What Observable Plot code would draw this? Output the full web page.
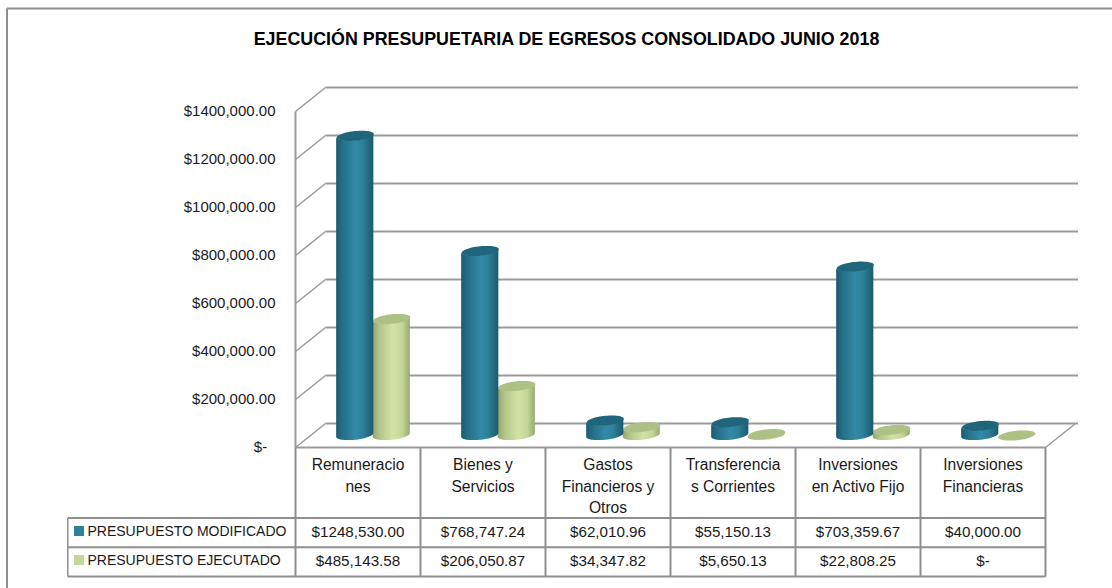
<!DOCTYPE html>
<html>
<head>
<meta charset="utf-8">
<script src="https://cdn.jsdelivr.net/npm/d3@7"></script>
<script src="https://cdn.jsdelivr.net/npm/@observablehq/plot@0.6"></script>
<style>html,body{margin:0;padding:0;background:#fff;overflow:hidden}svg{display:block}</style>
</head>
<body>
<div id="chart"></div>
<script>
const title = "EJECUCIÓN PRESUPUETARIA DE EGRESOS CONSOLIDADO JUNIO 2018";
const categories = ["Remuneracio\nnes","Bienes y\nServicios","Gastos\nFinancieros y\nOtros","Transferencia\ns Corrientes","Inversiones\nen Activo Fijo","Inversiones\nFinancieras"];
const modificado = [1248530.00,768747.24,62010.96,55150.13,703359.67,40000.00];
const ejecutado = [485143.58,206050.87,34347.82,5650.13,22808.25,0];
const modificadoLabels = ["$1248,530.00","$768,747.24","$62,010.96","$55,150.13","$703,359.67","$40,000.00"];
const ejecutadoLabels = ["$485,143.58","$206,050.87","$34,347.82","$5,650.13","$22,808.25","$-"];
const seriesNames = ["PRESUPUESTO MODIFICADO","PRESUPUESTO EJECUTADO"];
const tickValues = [0,200000,400000,600000,800000,1000000,1200000,1400000];
const tickLabels = ["$-\u00a0\u00a0","$200,000.00","$400,000.00","$600,000.00","$800,000.00","$1000,000.00","$1200,000.00","$1400,000.00"];

// chart-unit layout: x in category widths, y in dollars
const depthX = 0.24, depthY = 100000;      // full depth of the 3-D box
const pxY = 1400000 / 336, pxX = 6 / 750;  // one pixel in scale units
const X = p => (p - 295) * pxX, Y = p => (447 - p) * pxY;
const rowLines = [Y(517.5), Y(546.7), Y(576)];
const colLines = d3.range(1, 7);
const FONT = "'Liberation Sans', Arial, sans-serif";
const GRID = "#9b9b9b", LINE = "#8f8f8f", TEXT = "#1a1a1a";

function cylinder(values, offset) {
  const rx = 18.6 * pxX, ry = 4.8 * pxY, tilt = 1.8 * pxY;
  const side = [], top = [];
  values.forEach((v, i) => {
    const cx = i + 0.5 + 0.124 + offset, b = Y(435);
    d3.range(0, 41).forEach(k => {
      const t = k / 40 * Math.PI, c = Math.cos(t), s = Math.sin(t);
      side.push({i, x: cx + rx * c, y1: b - ry * s + tilt * c, y2: b + v - ry * s + tilt * c});
    });
    d3.range(0, 61).forEach(k => {
      const t = k / 60 * 2 * Math.PI, c = Math.cos(t), s = Math.sin(t);
      top.push({i, x: cx + rx * c, y: b + v + ry * s + tilt * c});
    });
  });
  return {side, top};
}
const blue = cylinder(modificado, -0.146);
const green = cylinder(ejecutado, 0.146);

const gradients = () => {
  const svgNS = "http://www.w3.org/2000/svg";
  const defs = document.createElementNS(svgNS, "defs");
  const add = (id, stops) => {
    const g = document.createElementNS(svgNS, "linearGradient");
    g.setAttribute("id", id);
    stops.forEach(([o, c]) => {
      const s = document.createElementNS(svgNS, "stop");
      s.setAttribute("offset", o); s.setAttribute("stop-color", c); g.appendChild(s);
    });
    defs.appendChild(g);
  };
  add("cylBlue", [[0,"#1d5a70"],[0.18,"#256f88"],[0.52,"#338aa6"],[0.72,"#2d8099"],[1,"#1c5a6f"]]);
  add("cylGreen", [[0,"#93a56c"],[0.2,"#b4c68a"],[0.55,"#d2e3a3"],[0.8,"#c3d597"],[1,"#98a971"]]);
  return defs;
};

const gridLevels = tickValues;
const bodyLabels = categories.map((c, i) => ({c, i}));

const plot = Plot.plot({
  width: 1112, height: 588,
  marginTop: 0, marginRight: 0, marginBottom: 0, marginLeft: 0,
  x: {domain: [0, 6], range: [295, 1045], axis: null},
  y: {domain: [0, 1400000], range: [447, 111], axis: null},
  style: {fontFamily: FONT, background: "#fff"},
  marks: [
    gradients,
    // outer chart border (runs off the right and bottom of the picture)
    Plot.link([0], {x1: X(6.5), y1: Y(8), x2: X(1112), y2: Y(8), stroke: LINE, strokeWidth: 2}),
    Plot.link([0], {x1: X(6.5), y1: Y(8), x2: X(6.5), y2: Y(588), stroke: LINE, strokeWidth: 2}),
    // back wall and left wall grid
    Plot.link(gridLevels, {x1: depthX, x2: depthX + 6.02, y1: d => d + depthY, y2: d => d + depthY, stroke: GRID, strokeWidth: 2}),
    Plot.link(gridLevels, {x1: 0, x2: depthX, y1: d => d, y2: d => d + depthY, stroke: GRID, strokeWidth: 1.6}),
    Plot.link([0], {x1: 0, x2: 0, y1: 0, y2: 1400000, stroke: GRID, strokeWidth: 2}),
    Plot.link([0], {x1: 6, x2: 6 + depthX, y1: 0, y2: depthY, stroke: GRID, strokeWidth: 1.6}),
    // cylinders
    Plot.areaY(green.side, {x: "x", y1: "y1", y2: "y2", z: "i", fill: "url(#cylGreen)", curve: "linear"}),
    Plot.line(green.top, {x: "x", y: "y", z: "i", fill: "#aec184", stroke: "none", curve: "linear"}),
    Plot.areaY(blue.side, {x: "x", y1: "y1", y2: "y2", z: "i", fill: "url(#cylBlue)", curve: "linear"}),
    Plot.line(blue.top, {x: "x", y: "y", z: "i", fill: "#1f667c", stroke: "none", curve: "linear"}),
    // data table rules
    Plot.link([0], {x1: 0, x2: 6, y1: 0, y2: 0, stroke: GRID, strokeWidth: 2}),
    Plot.link(rowLines, {x1: X(67.3), x2: 6, y1: d => d, y2: d => d, stroke: LINE, strokeWidth: 2}),
    Plot.link([0], {x1: X(67.3), x2: X(67.3), y1: rowLines[0], y2: rowLines[2], stroke: LINE, strokeWidth: 1.5}),
    Plot.link([0, ...colLines], {x1: d => d, x2: d => d, y1: 0, y2: rowLines[2], stroke: LINE, strokeWidth: 2}),
    // tick labels
    Plot.text(tickValues, {x: 0, y: d => d, text: (d, i) => tickLabels[i], dx: -20, textAnchor: "end", fontSize: 15, fill: TEXT}),
    // title
    Plot.text([title], {x: X(566), y: Y(39), text: d => d, fontSize: 17.85, fontWeight: "bold", fill: "#000"}),
    // category labels and values
    Plot.text(bodyLabels, {x: d => d.i + 0.5, y: Y(455), text: "c", fontSize: 15.6, lineHeight: 1.35, lineAnchor: "top", fill: TEXT}),
    Plot.text(modificadoLabels, {x: (d, i) => i + 0.5, y: Y(532), text: d => d, fontSize: 15.2, fill: TEXT}),
    Plot.text(ejecutadoLabels, {x: (d, i) => i + 0.5, y: Y(560.5), text: d => d, fontSize: 15.2, fill: TEXT}),
    // legend keys
    Plot.rect(seriesNames, {x1: X(74), x2: X(84), y1: (d, i) => Y(526 + i * 29), y2: (d, i) => Y(536 + i * 29), fill: (d, i) => ["#2f8099", "#c4d69a"][i]}),
    Plot.text(seriesNames, {x: X(87), y: (d, i) => Y(531.5 + i * 29), text: d => d, textAnchor: "start", fontSize: 14, fill: TEXT})
  ]
});
document.getElementById("chart").appendChild(plot);
</script>
</body>
</html>
